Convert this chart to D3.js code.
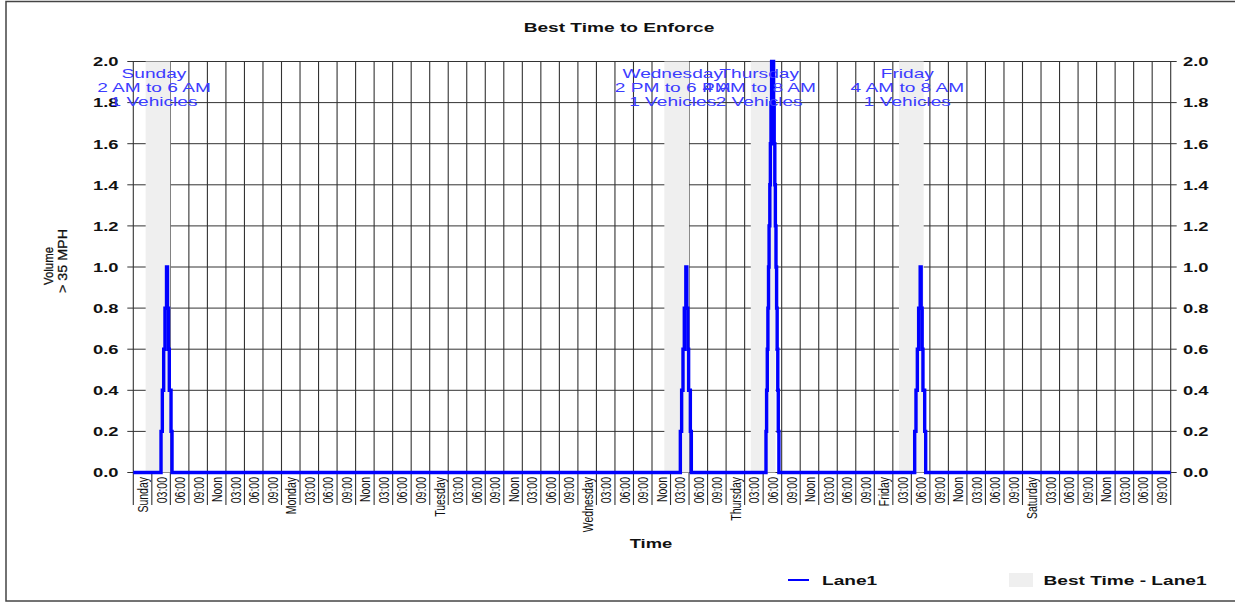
<!DOCTYPE html>
<html>
<head>
<meta charset="utf-8">
<script src="https://cdn.jsdelivr.net/npm/d3@7"></script>
<style>
  html, body { margin: 0; padding: 0; background: #fff; }
  svg { display: block; font-family: Arial, "Liberation Sans", sans-serif; }
</style>
</head>
<body>
<svg id="chart" width="1235" height="603"></svg>
<script>
// ---------- DATA ----------
const dayNames = ["Sunday", "Monday", "Tuesday", "Wednesday", "Thursday", "Friday", "Saturday"];
const hourLabels = ["", "03:00", "06:00", "09:00", "Noon", "03:00", "06:00", "09:00"]; // "" -> day name
const yTicks = [0, 0.2, 0.4, 0.6, 0.8, 1.0, 1.2, 1.4, 1.6, 1.8, 2.0];

// Best-time bands (hours since Sunday 00:00)
const bandStart = [2, 86, 100, 124];
const bandEnd = [6, 90, 104, 128];
const bandDay = ["Sunday", "Wednesday", "Thursday", "Friday"];
const bandRange = ["2 AM to 6 AM", "2 PM to 6 PM", "4 AM to 8 AM", "4 AM to 8 AM"];
const bandCount = ["1 Vehicles", "1 Vehicles", "2 Vehicles", "1 Vehicles"];

// Lane1 volume > 35 MPH: [hour since Sunday 00:00, value] (step changes)
const lane1 = [
  [0, 0],
  [4.49, 0.2], [4.70, 0.4], [4.92, 0.6], [5.13, 0.8], [5.38, 1.0],
  [5.54, 0.8], [5.70, 0.6], [5.83, 0.4], [6.11, 0.2], [6.27, 0],
  [88.59, 0.2], [88.80, 0.4], [89.02, 0.6], [89.23, 0.8], [89.48, 1.0],
  [89.64, 0.8], [89.80, 0.6], [89.93, 0.4], [90.21, 0.2], [90.37, 0],
  [102.46, 0.2], [102.56, 0.4], [102.67, 0.6], [102.77, 0.8], [102.87, 1.0],
  [102.96, 1.2], [103.08, 1.4], [103.17, 1.6], [103.27, 1.8], [103.37, 2.0],
  [103.69, 1.8], [103.79, 1.6], [103.89, 1.4], [103.98, 1.2], [104.08, 1.0],
  [104.18, 0.8], [104.27, 0.6], [104.37, 0.4], [104.45, 0.2], [104.55, 0],
  [126.54, 0.2], [126.75, 0.4], [126.97, 0.6], [127.18, 0.8], [127.43, 1.0],
  [127.59, 0.8], [127.75, 0.6], [127.88, 0.4], [128.16, 0.2], [128.32, 0],
  [168, 0]
];

// ---------- LAYOUT ----------
const SX = 1.47; // horizontal stretch of all text
const svg = d3.select("#chart");
const x = d3.scaleLinear().domain([0, 168]).range([133.3, 1170.7]);
const y = d3.scaleLinear().domain([0, 2]).range([472.5, 61.5]);
const plotTop = y(2), plotBottom = y(0), plotLeft = x(0), plotRight = x(168);
const tickBottom = 505;

function stretched(sel, tx, ty, rot) {
  return sel.attr("transform", `translate(${tx},${ty}) scale(${SX},1)` + (rot ? ` rotate(${rot})` : ""));
}

// outer frame
svg.append("rect").attr("x", 6).attr("y", 1.5).attr("width", 1240).attr("height", 599.5)
  .attr("fill", "none").attr("stroke", "#444").attr("stroke-width", 1.5);

// title
stretched(svg.append("text"), 619, 32).attr("text-anchor", "middle")
  .attr("font-size", 13).attr("font-weight", "bold").attr("fill", "#111").text("Best Time to Enforce");

// gridlines
const grid = svg.append("g");
grid.selectAll("line.h").data(yTicks).join("line")
  .attr("x1", plotLeft - 6).attr("x2", plotRight + 6)
  .attr("y1", d => y(d)).attr("y2", d => y(d))
  .attr("stroke", "#333").attr("stroke-width", 1);

const xTickVals = d3.range(0, 169, 3);
grid.selectAll("line.v").data(xTickVals).join("line")
  .attr("x1", d => x(d)).attr("x2", d => x(d))
  .attr("y1", plotTop).attr("y2", tickBottom)
  .attr("stroke", "#333").attr("stroke-width", 1.1);

// y tick labels
const yAxisL = d3.axisLeft(y).tickValues(yTicks).tickFormat(d3.format(".1f")).tickSize(0);
const yAxisR = d3.axisRight(y).tickValues(yTicks).tickFormat(d3.format(".1f")).tickSize(0);
const gl = svg.append("g").attr("transform", `translate(${plotLeft},0)`).call(yAxisL);
const gr = svg.append("g").attr("transform", `translate(${plotRight},0)`).call(yAxisR);
[gl, gr].forEach(g => { g.select(".domain").remove(); });
gl.selectAll(".tick text").each(function () {
  const t = d3.select(this);
  const ty = +d3.select(this.parentNode).attr("transform").match(/,([\d.]+)/)[1];
  d3.select(this.parentNode).attr("transform", null);
  stretched(t, 118.5 - plotLeft, ty + 4.3).attr("x", null).attr("dy", null)
    .attr("text-anchor", "end").attr("font-size", 12.5).attr("font-weight", "bold")
    .attr("fill", "#111").attr("font-family", "Arial, 'Liberation Sans', sans-serif");
});
gr.selectAll(".tick text").each(function () {
  const t = d3.select(this);
  const ty = +d3.select(this.parentNode).attr("transform").match(/,([\d.]+)/)[1];
  d3.select(this.parentNode).attr("transform", null);
  stretched(t, 1183 - plotRight, ty + 4.3).attr("x", null).attr("dy", null)
    .attr("text-anchor", "start").attr("font-size", 12.5).attr("font-weight", "bold")
    .attr("fill", "#111").attr("font-family", "Arial, 'Liberation Sans', sans-serif");
});

// x tick labels (between ticks, rotated)
const xLabels = [];
dayNames.forEach((day, di) => hourLabels.forEach((h, hi) => {
  xLabels.push({ hour: di * 24 + hi * 3, text: h === "" ? day : h });
}));
const xl = svg.append("g");
xl.selectAll("text").data(xLabels).join("text")
  .each(function (d) { stretched(d3.select(this), x(d.hour + 1.5), 477, -90); })
  .attr("text-anchor", "end").attr("dy", "0.36em")
  .attr("font-size", 10.5).attr("fill", "#111").text(d => d.text);

// best-time bands
svg.append("g").selectAll("rect").data(bandStart).join("rect")
  .attr("x", (d, i) => x(d)).attr("width", (d, i) => x(bandEnd[i]) - x(d))
  .attr("y", plotTop).attr("height", plotBottom - plotTop)
  .attr("fill", "#efefef");

// lane1 line
const line = d3.line().x(d => x(d[0])).y(d => y(d[1])).curve(d3.curveStepAfter);
svg.append("path").datum(lane1).attr("d", line)
  .attr("fill", "none").attr("stroke", "#0000ff").attr("stroke-width", 3.4);

// annotations
const ann = svg.append("g");
bandStart.forEach((s, i) => {
  const cx = x((s + bandEnd[i]) / 2) - 4;
  [bandDay[i], bandRange[i], bandCount[i]].forEach((txt, li) => {
    stretched(ann.append("text"), cx, 77.5 + li * 14.2).attr("text-anchor", "middle")
      .attr("font-size", 13).attr("fill", "#3c3cff").text(txt);
  });
});

// axis titles
stretched(svg.append("text"), 651, 548).attr("text-anchor", "middle")
  .attr("font-size", 12.5).attr("font-weight", "bold").attr("fill", "#111").text("Time");
svg.append("text").attr("transform", "translate(53,266) rotate(-90)").attr("text-anchor", "middle")
  .attr("font-size", 13.5).attr("fill", "#111").attr("stroke", "#111").attr("stroke-width", 0.3)
  .attr("textLength", 38).attr("lengthAdjust", "spacingAndGlyphs").text("Volume");
svg.append("text").attr("transform", "translate(67,261) rotate(-90)").attr("text-anchor", "middle")
  .attr("font-size", 13.5).attr("fill", "#111").attr("stroke", "#111").attr("stroke-width", 0.3)
  .attr("textLength", 64).attr("lengthAdjust", "spacingAndGlyphs").text("> 35 MPH");

// legend
const leg = svg.append("g");
leg.append("line").attr("x1", 788).attr("x2", 809).attr("y1", 580).attr("y2", 580)
  .attr("stroke", "#0000ff").attr("stroke-width", 2);
stretched(leg.append("text"), 822, 585).attr("font-size", 13).attr("font-weight", "bold")
  .attr("fill", "#111").text("Lane1");
leg.append("rect").attr("x", 1009).attr("y", 573).attr("width", 24).attr("height", 14)
  .attr("fill", "#efefef");
stretched(leg.append("text"), 1043.5, 584.5).attr("font-size", 13).attr("font-weight", "bold")
  .attr("fill", "#111").text("Best Time - Lane1");
</script>
</body>
</html>
